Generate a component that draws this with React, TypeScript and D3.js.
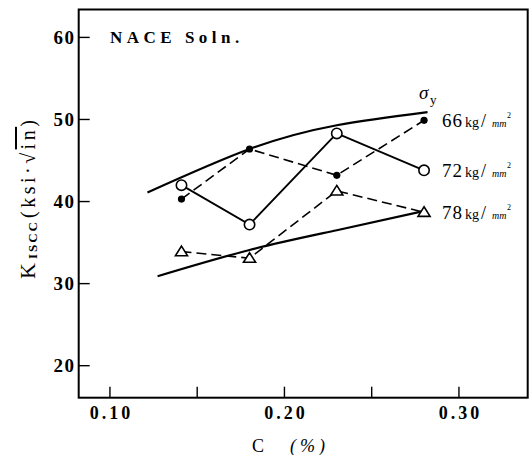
import React from "react";
import * as d3 from "d3";

const carbon = [0.141, 0.18, 0.23, 0.28];
const k66 = [40.3, 46.4, 43.2, 49.9];
const k72 = [42.0, 37.2, 48.3, 43.8];
const k78 = [33.9, 33.1, 41.3, 38.7];
const upperEnvX = [0.1215, 0.18, 0.23, 0.282];
const upperEnvY = [41.1, 46.4, 49.3, 50.9];
const lowerEnvX = [0.1273, 0.18, 0.23, 0.281];
const lowerEnvY = [30.9, 34.1, 36.5, 38.9];
const xTicks = [0.1, 0.15, 0.2, 0.25, 0.3];
const xTickLabels = ["0.10", "", "0.20", "", "0.30"];
const yTicks = [20, 30, 40, 50, 60];
const seriesLabels = ["66", "72", "78"];

const FONT = '"Liberation Serif", "DejaVu Serif", serif';

export default function App() {
  const x = d3.scaleLinear().domain([0.0821, 0.3394]).range([78.7, 527.7]);
  const y = d3.scaleLinear().domain([16.1, 63.4]).range([397.7, 9.5]);

  const line = d3
    .line<[number, number]>()
    .x((d) => x(d[0]))
    .y((d) => y(d[1]));
  const curve = d3
    .line<[number, number]>()
    .x((d) => x(d[0]))
    .y((d) => y(d[1]))
    .curve(d3.curveNatural);

  const pts = (ys: number[]) => carbon.map((c, i) => [c, ys[i]] as [number, number]);
  const upper = upperEnvX.map((c, i) => [c, upperEnvY[i]] as [number, number]);
  const lower = lowerEnvX.map((c, i) => [c, lowerEnvY[i]] as [number, number]);

  const series = [k66, k72, k78];
  const tri = (cx: number, cy: number) => {
    const s = 5.5;
    return `M${cx},${cy - s}L${cx + s * 1.1},${cy + s * 0.75}L${cx - s * 1.1},${cy + s * 0.75}Z`;
  };

  const [x0, x1] = x.range();
  const [yb, yt] = y.range();

  return (
    <svg
      width={531}
      height={455}
      style={{ position: "absolute", left: 0, top: 0, background: "#fff" }}
      fontFamily={FONT}
    >
      <rect x={0} y={0} width={531} height={455} fill="#fff" />
      {/* frame */}
      <rect x={x0} y={yt} width={x1 - x0} height={yb - yt} fill="none" stroke="#000" strokeWidth={2} />

      {/* x ticks */}
      {xTicks.map((t, i) => (
        <g key={"xt" + i}>
          <line x1={x(t)} x2={x(t)} y1={yb} y2={yb - 11} stroke="#000" strokeWidth={1.4} />
          {xTickLabels[i] && (
            <text
              x={x(t) + 1.5}
              y={419}
              textAnchor="middle"
              fontSize={18}
              fontWeight="bold"
              letterSpacing={3}
            >
              {xTickLabels[i]}
            </text>
          )}
        </g>
      ))}

      {/* y ticks */}
      {yTicks.map((t, i) => (
        <g key={"yt" + i}>
          <line x1={x0} x2={x0 + 11} y1={y(t)} y2={y(t)} stroke="#000" strokeWidth={1.4} />
          <text x={75.5} y={y(t) + 6.5} textAnchor="end" fontSize={19} fontWeight="bold" letterSpacing={1.5}>
            {t}
          </text>
        </g>
      ))}

      {/* axis titles */}
      <text x={252} y={452} fontSize={18}>
        C
      </text>
      <text x={290} y={452} fontSize={18} fontStyle="italic" letterSpacing={4}>
        (%)
      </text>

      <g transform="translate(35,279) rotate(-90)">
        <text x={0} y={0} fontSize={22}>
          <tspan>K</tspan>
          <tspan fontSize={13} fontWeight="bold" dy={2} dx={4} letterSpacing={2}>
            ISCC
          </tspan>
          <tspan fontSize={20} dy={-2} dx={2} letterSpacing={3.5}>
            (ksi·√
          </tspan>
          <tspan fontSize={20} letterSpacing={3.5} textDecoration="overline">
            in
          </tspan>
          <tspan fontSize={20}>)</tspan>
        </text>
      </g>

      {/* annotation */}
      <text x={110} y={43} fontSize={17} fontWeight="bold" letterSpacing={4.5}>
        NACE Soln.
      </text>

      {/* envelopes */}
      <path d={curve(upper) || ""} fill="none" stroke="#000" strokeWidth={2.2} />
      <path d={curve(lower) || ""} fill="none" stroke="#000" strokeWidth={2.2} />

      {/* data lines */}
      <path d={line(pts(k66)) || ""} fill="none" stroke="#000" strokeWidth={1.6} strokeDasharray="10,5" />
      <path d={line(pts(k72)) || ""} fill="none" stroke="#000" strokeWidth={1.8} />
      <path d={line(pts(k78)) || ""} fill="none" stroke="#000" strokeWidth={1.6} strokeDasharray="10,5" />

      {/* markers */}
      {pts(k66).map((d, i) => (
        <circle key={"f" + i} cx={x(d[0])} cy={y(d[1])} r={3.6} fill="#000" />
      ))}
      {pts(k72).map((d, i) => (
        <circle key={"o" + i} cx={x(d[0])} cy={y(d[1])} r={5.2} fill="#fff" stroke="#000" strokeWidth={1.6} />
      ))}
      {pts(k78).map((d, i) => (
        <path key={"t" + i} d={tri(x(d[0]), y(d[1]))} fill="#fff" stroke="#000" strokeWidth={1.6} />
      ))}

      {/* sigma label */}
      <text x={419} y={99} fontSize={19} fontStyle="italic">
        σ
      </text>
      <text x={430} y={104} fontSize={13}>
        y
      </text>

      {/* series labels */}
      {seriesLabels.map((lab, i) => {
        const last = series[i][series[i].length - 1];
        const by = y(last) + 6.5;
        return (
          <g key={"l" + i}>
            <text x={442} y={by} fontSize={19} letterSpacing={1}>
              {lab}
            </text>
            <text x={465} y={by} fontSize={14}>
              kg
            </text>
            <text x={481} y={by} fontSize={18}>
              /
            </text>
            <text x={492} y={by} fontSize={10} fontStyle="italic">
              mm
            </text>
            <text x={507} y={by - 9} fontSize={8}>
              2
            </text>
          </g>
        );
      })}
    </svg>
  );
}
